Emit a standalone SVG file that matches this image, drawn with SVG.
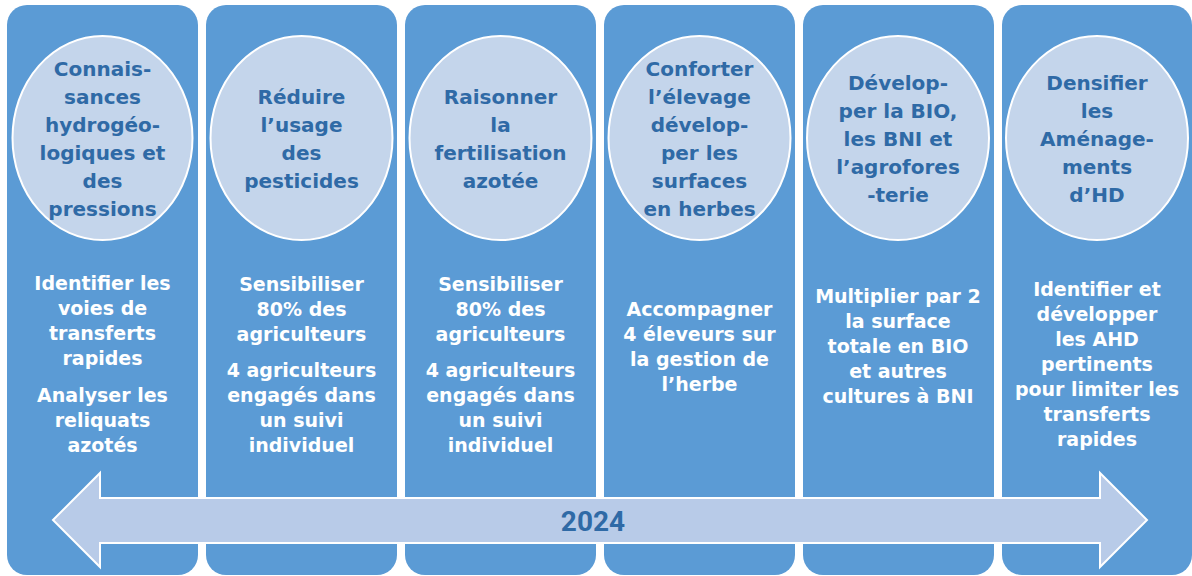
<svg xmlns="http://www.w3.org/2000/svg" width="1192" height="576" viewBox="0 0 1192 576">
<style>
.col{fill:#5b9bd5}
.cir{fill:#c4d5eb;stroke:#ffffff;stroke-width:2}
.ct{font-family:"DejaVu Sans",sans-serif;font-weight:bold;font-size:20px;fill:#2f6aa6;text-anchor:middle}
.wt{font-family:"DejaVu Sans",sans-serif;font-weight:bold;font-size:19px;fill:#ffffff;text-anchor:middle}
.arr{fill:#b8cbe8;stroke:#ffffff;stroke-width:2}
.yr{font-family:Roboto,"Liberation Sans",sans-serif;font-weight:bold;font-size:28px;fill:#2f6aa6;text-anchor:middle}
</style>
<rect width="1192" height="576" fill="#ffffff"/>
<g id="col1">
<rect class="col" x="7" y="5" width="191" height="570" rx="20"/>
<ellipse class="cir" cx="102.5" cy="138" rx="90" ry="102"/>
<text class="ct" x="102.5"><tspan x="102.5" y="76">Connais-</tspan><tspan x="102.5" y="104">sances</tspan><tspan x="102.5" y="132">hydrogéo-</tspan><tspan x="102.5" y="160">logiques et</tspan><tspan x="102.5" y="188">des</tspan><tspan x="102.5" y="216">pressions</tspan></text>
<text class="wt"><tspan x="102.5" y="290">Identifier les</tspan><tspan x="102.5" y="315">voies de</tspan><tspan x="102.5" y="340">transferts</tspan><tspan x="102.5" y="365">rapides</tspan><tspan x="102.5" y="402">Analyser les</tspan><tspan x="102.5" y="427">reliquats</tspan><tspan x="102.5" y="452">azotés</tspan></text>
</g>
<g id="col2">
<rect class="col" x="206" y="5" width="191" height="570" rx="20"/>
<ellipse class="cir" cx="301.5" cy="138" rx="91" ry="102"/>
<text class="ct"><tspan x="301.5" y="104">Réduire</tspan><tspan x="301.5" y="132">l’usage</tspan><tspan x="301.5" y="160">des</tspan><tspan x="301.5" y="188">pesticides</tspan></text>
<text class="wt"><tspan x="301.5" y="291">Sensibiliser</tspan><tspan x="301.5" y="316">80% des</tspan><tspan x="301.5" y="341">agriculteurs</tspan><tspan x="301.5" y="377">4 agriculteurs</tspan><tspan x="301.5" y="402">engagés dans</tspan><tspan x="301.5" y="427">un suivi</tspan><tspan x="301.5" y="452">individuel</tspan></text>
</g>
<g id="col3">
<rect class="col" x="405" y="5" width="191" height="570" rx="20"/>
<ellipse class="cir" cx="500.5" cy="138" rx="91" ry="102"/>
<text class="ct"><tspan x="500.5" y="104">Raisonner</tspan><tspan x="500.5" y="132">la</tspan><tspan x="500.5" y="160">fertilisation</tspan><tspan x="500.5" y="188">azotée</tspan></text>
<text class="wt"><tspan x="500.5" y="291">Sensibiliser</tspan><tspan x="500.5" y="316">80% des</tspan><tspan x="500.5" y="341">agriculteurs</tspan><tspan x="500.5" y="377">4 agriculteurs</tspan><tspan x="500.5" y="402">engagés dans</tspan><tspan x="500.5" y="427">un suivi</tspan><tspan x="500.5" y="452">individuel</tspan></text>
</g>
<g id="col4">
<rect class="col" x="604" y="5" width="191" height="570" rx="20"/>
<ellipse class="cir" cx="699.5" cy="138" rx="91" ry="102"/>
<text class="ct"><tspan x="699.5" y="76">Conforter</tspan><tspan x="699.5" y="104">l’élevage</tspan><tspan x="699.5" y="132">dévelop-</tspan><tspan x="699.5" y="160">per les</tspan><tspan x="699.5" y="188">surfaces</tspan><tspan x="699.5" y="216">en herbes</tspan></text>
<text class="wt"><tspan x="699.5" y="316">Accompagner</tspan><tspan x="699.5" y="341">4 éleveurs sur</tspan><tspan x="699.5" y="366">la gestion de</tspan><tspan x="699.5" y="391">l’herbe</tspan></text>
</g>
<g id="col5">
<rect class="col" x="803" y="5" width="191" height="570" rx="20"/>
<ellipse class="cir" cx="898" cy="138" rx="91" ry="102"/>
<text class="ct"><tspan x="898" y="90">Dévelop-</tspan><tspan x="898" y="118">per la BIO,</tspan><tspan x="898" y="146">les BNI et</tspan><tspan x="898" y="174">l’agrofores</tspan><tspan x="898" y="202">-terie</tspan></text>
<text class="wt"><tspan x="898" y="303">Multiplier par 2</tspan><tspan x="898" y="328">la surface</tspan><tspan x="898" y="353">totale en BIO</tspan><tspan x="898" y="378">et autres</tspan><tspan x="898" y="403">cultures à BNI</tspan></text>
</g>
<g id="col6">
<rect class="col" x="1002" y="5" width="190" height="570" rx="20"/>
<ellipse class="cir" cx="1097" cy="138" rx="91" ry="102"/>
<text class="ct"><tspan x="1097" y="90">Densifier</tspan><tspan x="1097" y="118">les</tspan><tspan x="1097" y="146">Aménage-</tspan><tspan x="1097" y="174">ments</tspan><tspan x="1097" y="202">d’HD</tspan></text>
<text class="wt"><tspan x="1097" y="296">Identifier et</tspan><tspan x="1097" y="321">développer</tspan><tspan x="1097" y="346">les AHD</tspan><tspan x="1097" y="371">pertinents</tspan><tspan x="1097" y="396">pour limiter les</tspan><tspan x="1097" y="421">transferts</tspan><tspan x="1097" y="446">rapides</tspan></text>
</g>
<g id="timeline">
<polygon class="arr" points="53,520 100,473 100,498 1100,498 1100,473 1147,520 1100,567 1100,543 100,543 100,567"/>
<text class="yr" x="593" y="531">2024</text>
</g>
</svg>
